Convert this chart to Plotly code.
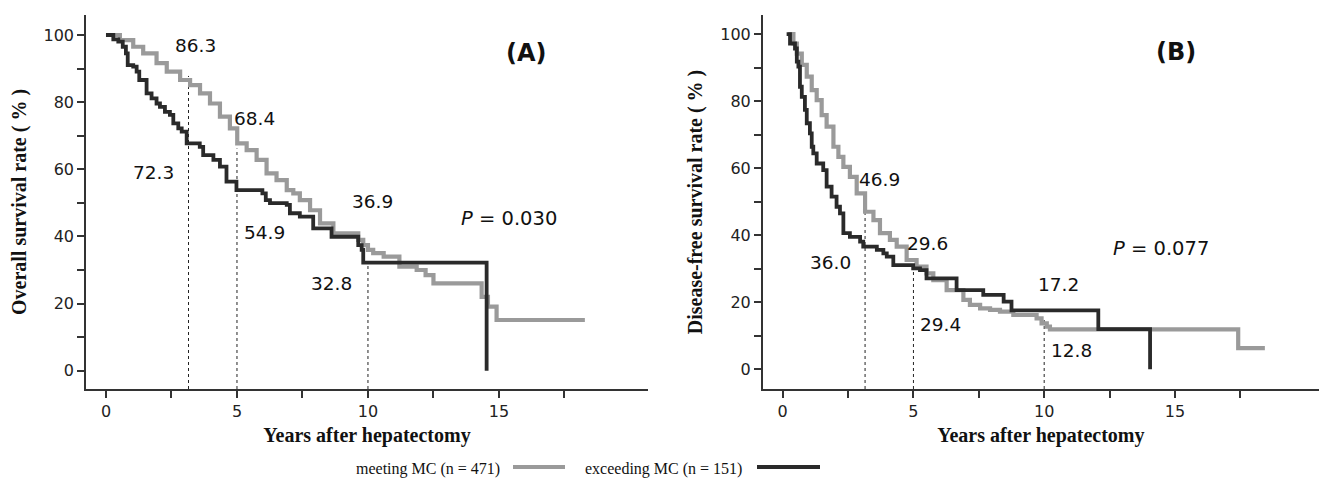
import plotly.graph_objects as go

# ---------------- data ----------------
# Panel A: overall survival
a_meet_t = [0, 0.53, 1.04, 1.42, 1.93, 2.32, 2.83, 3.21, 3.59, 3.97, 4.35, 4.73, 5.01, 5.37,
            5.75, 6.13, 6.51, 6.9, 7.15, 7.4, 7.79, 8.17, 8.68, 9.63, 9.82, 10.0, 10.2, 10.6,
            11.2, 11.86, 12.2, 12.5, 14.34, 14.58, 14.91, 18.28]
a_meet_v = [100, 98.5, 96.5, 94.5, 91.6, 89.1, 86.6, 85.1, 82.6, 79.6, 75.7, 72.2, 67.7, 65.7,
            62.8, 58.8, 56.8, 53.8, 52.8, 50.8, 47.8, 43.9, 40.9, 39.0, 37.4, 36.0, 35.0, 34.0,
            31.0, 30.0, 28.5, 26.0, 22.0, 19.1, 15.1, 15.1]

a_exc_t = [0, 0.28, 0.47, 0.64, 0.76, 0.83, 1.04, 1.17, 1.27, 1.55, 1.74, 1.93, 2.06, 2.25,
           2.44, 2.57, 2.76, 2.89, 3.08, 3.58, 3.71, 4.1, 4.35, 4.6, 4.98, 5.97, 6.1, 6.26,
           6.9, 7.02, 7.4, 7.91, 8.61, 9.63, 9.76, 9.82, 14.53]
a_exc_v = [100, 98.7, 98.0, 96.5, 94.5, 91.0, 90.6, 89.1, 86.6, 82.6, 81.1, 79.6, 78.6, 77.1,
           76.2, 73.7, 72.2, 71.2, 67.7, 66.7, 64.2, 62.8, 60.8, 56.3, 53.8, 52.8, 50.8, 49.9,
           49.4, 46.9, 45.9, 42.4, 39.9, 37.4, 36.0, 32.2, 0]

# Panel B: disease-free survival
b_meet_t = [0.21, 0.41, 0.54, 0.73, 0.92, 1.11, 1.3, 1.49, 1.68, 1.94, 2.13, 2.32, 2.57, 2.83,
            3.15, 3.47, 3.72, 4.1, 4.36, 4.74, 5.12, 5.5, 5.76, 6.27, 6.91, 7.16, 7.55, 7.93,
            8.31, 8.82, 9.71, 9.9, 10.1, 10.22, 17.42, 18.44]
b_meet_v = [100, 97.2, 94.2, 90.8, 87.3, 83.3, 80.3, 75.8, 72.4, 66.4, 63.4, 60.4, 57.4, 52.5,
            47.0, 44.5, 40.6, 38.6, 36.6, 32.6, 30.6, 28.6, 26.6, 23.6, 20.7, 19.2, 18.2, 17.7,
            17.2, 16.2, 15.2, 13.7, 12.7, 11.9, 6.3, 6.3]

b_exc_t = [0.15, 0.28, 0.47, 0.54, 0.6, 0.66, 0.73, 0.85, 0.92, 1.04, 1.11, 1.17, 1.3, 1.55,
           1.68, 1.87, 2.06, 2.19, 2.32, 2.57, 2.96, 3.08, 3.6, 3.85, 3.98, 4.23, 4.99, 5.25,
           5.5, 6.65, 7.67, 8.45, 8.75, 12.07, 14.05]
b_exc_v = [100, 97.2, 95.7, 91.8, 90.3, 84.3, 81.3, 77.4, 73.4, 70.4, 66.4, 64.4, 61.4, 59.4,
           54.5, 51.5, 48.5, 46.5, 40.6, 39.5, 38.1, 36.6, 35.6, 34.6, 33.6, 31.1, 30.1, 29.6,
           27.1, 23.6, 22.2, 20.2, 17.6, 12.0, 0]

# landmark guide lines (year, height reached)
a_guide_x = [3.15, 5.0, 10.0]
a_guide_top = [87.8, 66.2, 32.0]
b_guide_x = [3.15, 5.0, 10.0]
b_guide_top = [46.6, 29.6, 14.7]

# landmark labels: text, year, value
a_labels = [("86.3", 3.4, 97.0), ("68.4", 5.65, 75.2), ("72.3", 1.83, 59.1),
            ("54.9", 6.04, 41.3), ("36.9", 10.16, 50.3), ("32.8", 8.59, 26.0)]
b_labels = [("46.9", 3.69, 56.5), ("29.6", 5.53, 37.4), ("36.0", 1.84, 31.9),
            ("29.4", 6.05, 13.5), ("17.2", 10.55, 25.3), ("12.8", 11.05, 5.5)]

x_tickvals = [0, 2.5, 5, 7.5, 10, 12.5, 15, 17.5]
x_ticktext = ["0", "", "5", "", "10", "", "15", ""]
y_tickvals = [0, 10, 20, 30, 40, 50, 60, 70, 80, 90, 100]
y_ticktext = ["0", "", "20", "", "40", "", "60", "", "80", "", "100"]

series_names = ["meeting MC (n = 471)", "exceeding MC (n = 151)"]

# ---------------- styling ----------------
GRAY = "#9a9a9a"
DARK = "#2a2a2a"
AXC = "#333333"
SANS = "DejaVu Sans"
SERIF = "Liberation Serif"

W, H = 1319, 487
ydom = [(H - 389) / H, (H - 15) / H]
a_xdom = [86 / W, 648 / W]
b_xdom = [762.7 / W, 1.0]
a_xr, a_yr = [-0.763, 20.69], [-5.45, 105.96]
b_xr, b_yr = [-0.765, 20.51], [-5.88, 105.7]

fig = go.Figure()

def add_panel(xa, ya, meet_t, meet_v, exc_t, exc_v, gx, gtop, yr):
    for x, top in zip(gx, gtop):
        fig.add_trace(go.Scatter(x=[x, x], y=[yr[0], top], mode="lines",
                                 line=dict(color="#222", width=1, dash="dot"),
                                 xaxis=xa, yaxis=ya, showlegend=False, hoverinfo="skip"))
    fig.add_trace(go.Scatter(x=meet_t, y=meet_v, mode="lines", line_shape="hv",
                             line=dict(color=GRAY, width=4.2), name=series_names[0],
                             xaxis=xa, yaxis=ya, showlegend=False))
    fig.add_trace(go.Scatter(x=exc_t, y=exc_v, mode="lines", line_shape="hv",
                             line=dict(color=DARK, width=3.8), name=series_names[1],
                             xaxis=xa, yaxis=ya, showlegend=False))

add_panel("x", "y", a_meet_t, a_meet_v, a_exc_t, a_exc_v, a_guide_x, a_guide_top, a_yr)
add_panel("x2", "y2", b_meet_t, b_meet_v, b_exc_t, b_exc_v, b_guide_x, b_guide_top, b_yr)

def xaxis(dom, rng, anchor):
    return dict(domain=dom, range=rng, anchor=anchor, showline=True, linecolor=AXC, linewidth=1.5,
                ticks="outside", ticklen=7, tickwidth=1.5, tickcolor=AXC,
                tickvals=x_tickvals, ticktext=x_ticktext, showgrid=False, zeroline=False,
                tickfont=dict(family=SANS, size=16, color="#222"),
                title=dict(text="<b>Years after hepatectomy</b>",
                           font=dict(family=SERIF, size=20, color="#111"), standoff=8))

def yaxis(rng, anchor, title):
    return dict(domain=ydom, range=rng, anchor=anchor, showline=True, linecolor=AXC, linewidth=1.5,
                ticks="outside", ticklen=7, tickwidth=1.5, tickcolor=AXC,
                tickvals=y_tickvals, ticktext=y_ticktext, showgrid=False, zeroline=False,
                tickfont=dict(family=SANS, size=16, color="#222"),
                title=dict(text="<b>" + title + "</b>",
                           font=dict(family=SERIF, size=20, color="#111"), standoff=12))

annotations = []
for txt, x, y in a_labels:
    annotations.append(dict(text=txt, x=x, y=y, xref="x", yref="y", showarrow=False,
                            font=dict(family=SANS, size=18.5, color="#111")))
for txt, x, y in b_labels:
    annotations.append(dict(text=txt, x=x, y=y, xref="x2", yref="y2", showarrow=False,
                            font=dict(family=SANS, size=18.5, color="#111")))
annotations += [
    dict(text="<i>P</i> = 0.030", x=15.38, y=45.4, xref="x", yref="y", showarrow=False,
         font=dict(family=SANS, size=19.5, color="#111")),
    dict(text="<i>P</i> = 0.077", x=14.46, y=36.1, xref="x2", yref="y2", showarrow=False,
         font=dict(family=SANS, size=19.5, color="#111")),
    dict(text="<b>(A)</b>", x=16.05, y=94.5, xref="x", yref="y", showarrow=False,
         font=dict(family=SANS, size=24, color="#111")),
    dict(text="<b>(B)</b>", x=15.03, y=94.7, xref="x2", yref="y2", showarrow=False,
         font=dict(family=SANS, size=24, color="#111")),
]

# legend row (text followed by line sample)
leg_text_y = (H - 469) / H
leg_line_y = (H - 467) / H
annotations += [
    dict(text=series_names[0], x=502 / W, y=leg_text_y, xref="paper", yref="paper",
         showarrow=False, xanchor="right", yanchor="middle",
         font=dict(family=SERIF, size=16, color="#111")),
    dict(text=series_names[1], x=744 / W, y=leg_text_y, xref="paper", yref="paper",
         showarrow=False, xanchor="right", yanchor="middle",
         font=dict(family=SERIF, size=16, color="#111")),
]
shapes = [
    dict(type="line", xref="paper", yref="paper", x0=513 / W, x1=565 / W,
         y0=leg_line_y, y1=leg_line_y, line=dict(color=GRAY, width=4.2)),
    dict(type="line", xref="paper", yref="paper", x0=757 / W, x1=820 / W,
         y0=leg_line_y, y1=leg_line_y, line=dict(color=DARK, width=3.8)),
]

fig.update_layout(
    width=W, height=H, margin=dict(l=0, r=0, t=0, b=0),
    paper_bgcolor="white", plot_bgcolor="white", showlegend=False,
    xaxis=xaxis(a_xdom, a_xr, "y"),
    yaxis=yaxis(a_yr, "x", "Overall survival rate ( % )"),
    xaxis2=xaxis(b_xdom, b_xr, "y2"),
    yaxis2=yaxis(b_yr, "x2", "Disease-free survival rate ( % )"),
    annotations=annotations, shapes=shapes,
)

fig.write_html("out.html", config={"displayModeBar": False},
               post_script="document.body.style.margin='0';document.body.style.overflow='hidden';")
